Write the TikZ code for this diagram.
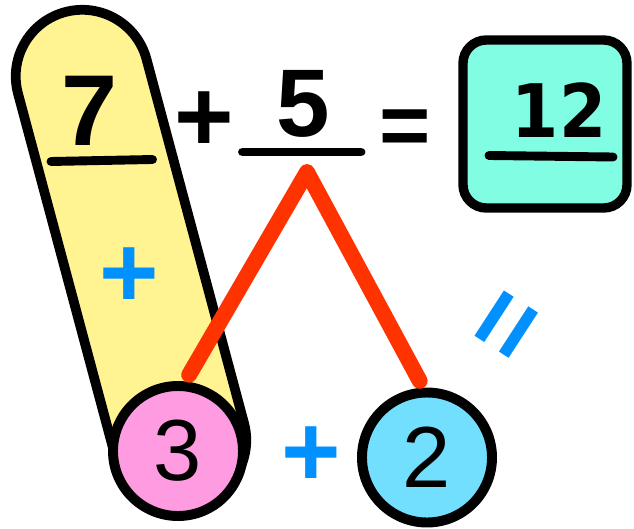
\documentclass[tikz,border=0pt]{standalone}
\usepackage{fontspec}
\setmainfont{Liberation Sans}
\newfontfamily\boxfont{DejaVu Sans}[FakeStretch=0.92]
\usepackage{tikz}
\usetikzlibrary{shapes.misc}
\definecolor{bandyellow}{RGB}{255,243,146}
\definecolor{ballpink}{RGB}{255,155,225}
\definecolor{ballblue}{RGB}{115,223,255}
\definecolor{boxteal}{RGB}{128,253,226}
\definecolor{plusblue}{RGB}{0,145,255}
\definecolor{splitred}{RGB}{255,51,0}

\begin{document}
\begin{tikzpicture}[
  x=0.03cm, y=0.03cm,
  band/.style={rounded rectangle, draw=black, fill=bandyellow, line width=8.3pt,
               minimum width=15.29cm, minimum height=3.99cm, inner sep=0pt},
  ball/.style={circle, draw=black, line width=8.5pt, minimum size=3.9cm, inner sep=0pt,
               font=\fontsize{74}{74}\selectfont},
  sumbox/.style={draw=black, fill=boxteal, line width=8pt, rounded corners=0.7cm,
                 minimum width=4.92cm, minimum height=5.04cm, inner sep=0pt},
  digit/.style={anchor=base, inner sep=0pt, font=\bfseries\fontsize{86}{86}\selectfont},
  sym/.style={inner sep=0pt, font=\bfseries\fontsize{87}{87}\selectfont},
  uline/.style={line width=7.6pt, line cap=round},
  split/.style={splitred, line width=13.5pt, line cap=round, line join=round}
]
\useasboundingbox (0,0) rectangle (634,-529);

% --- band round the 7, down to the 3 ---
\node[band, rotate=-75] (band) at (131,-258.25) {};
\node[sym, plusblue] (inplus) at (129,-278) {+};

% --- top row: 7 + 5 = 12 ---
\node[digit] (seven) at (89.5,-145) {7};
\draw[uline] (51,-161.5) -- (152.5,-159.5);
\node[sym] (plus) at (204,-122) {+};
\node[digit, font=\bfseries\fontsize{82}{82}\selectfont] (five) at (303.5,-136) {5};
\draw[uline] (242.5,-152) -- (361,-152);
\node[sym, font=\bfseries\fontsize{75}{75}\selectfont] (equals) at (405,-132.5) {=};
\node[sumbox] (total) at (545,-124) {};
\node[digit, font=\boxfont\bfseries\fontsize{63}{63}\selectfont] (twelve) at (559,-137) {12};
\draw[uline] (489,-155.5) -- (613,-157);

% --- bottom row: 3 + 2 ---
\node[ball, fill=ballpink] (three) at (178,-451) {3};
\node[ball, fill=ballblue] (two) at (427,-457.5) {2};
\node[sym, plusblue] (midplus) at (311,-457) {+};
\node[sym, plusblue, rotate=57, font=\bfseries\fontsize{92}{92}\selectfont] (sameas) at (513,-329) {=};

% split of the 5
\coordinate (apex) at (307,-172);
\draw[split, shorten <=6.5pt, shorten >=6.5pt] (three.84) -- (apex) -- (two.93);

\end{tikzpicture}
\end{document}
